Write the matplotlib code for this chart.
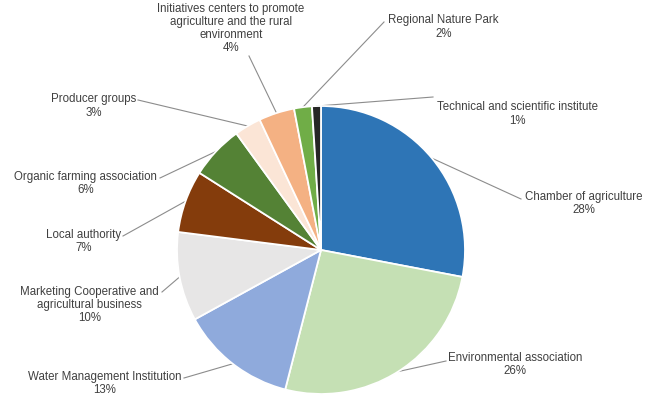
import numpy as np
import matplotlib.pyplot as plt

plt.rcParams['font.family'] = ['Liberation Sans', 'DejaVu Sans']

# data
labels = ["Chamber of agriculture", "Environmental association",
          "Water Management Institution",
          "Marketing Cooperative and\nagricultural business",
          "Local authority", "Organic farming association", "Producer groups",
          "Initiatives centers to promote\nagriculture and the rural\nenvironment",
          "Regional Nature Park", "Technical and scientific institute"]
shares = [28, 26, 13, 10, 7, 6, 3, 4, 2, 1]
colors = ["#2E75B6", "#C5E0B4", "#8FAADC", "#E7E6E6", "#843C0C",
          "#548235", "#FBE5D6", "#F4B183", "#70AD47", "#262626"]

W, H = 655, 396
fig = plt.figure(figsize=(W / 100, H / 100), dpi=100)
ax = fig.add_axes([0, 0, 1, 1])

cx, cy, r = 321, H - 250, 144
wedges, _ = ax.pie(shares, colors=colors, startangle=90, counterclock=False,
                   center=(cx, cy), radius=r, frame=True,
                   wedgeprops=dict(edgecolor='white', linewidth=1.3))
ax.set_xlim(0, W)
ax.set_ylim(0, H)
ax.set_aspect('equal')
ax.axis('off')

# label layout in image pixels: (text x, text y centre, ha, leader end x, leader end y)
layout = [
    (525, 203.5, 'left', 521, 199),
    (448, 364.5, 'left', 446, 361),
    (181, 383.5, 'right', 184, 378),
    (159, 305, 'right', 162, 292),
    (121, 241.5, 'right', 123, 236),
    (157, 183.5, 'right', 160, 178),
    (136, 106, 'right', 138, 100),
    (231, 28.5, 'center', 249, 56),
    (388, 27, 'left', 384, 22),
    (437, 114, 'left', 433, 97),
]

for w, lab, s, (tx, ty, ha, ex, ey) in zip(wedges, labels, shares, layout):
    mid = np.deg2rad((w.theta1 + w.theta2) / 2)
    px, py = cx + r * np.cos(mid), cy + r * np.sin(mid)
    ax.plot([px, ex], [py, H - ey], color='#8C8C8C', lw=0.8, zorder=0.5)
    ax.text(tx, H - ty, f"{lab}\n{s}%", ha=ha, va='center',
            multialignment='center', fontsize=8.3, color='#404040',
            linespacing=1.12)

fig.savefig("out.png", dpi=100)
